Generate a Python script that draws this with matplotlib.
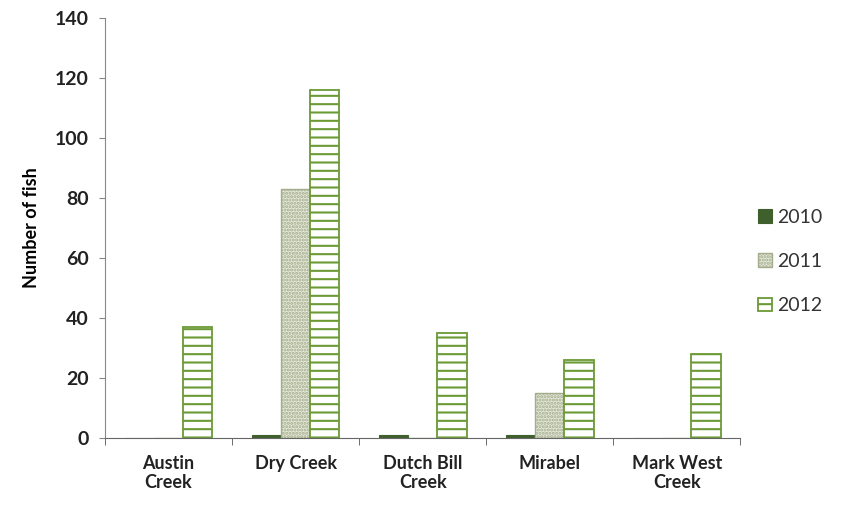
import matplotlib.pyplot as plt
import numpy as np

sites = ['Austin\nCreek', 'Dry Creek', 'Dutch Bill\nCreek', 'Mirabel', 'Mark West\nCreek']
years = ['2010', '2011', '2012']
fish_2010 = [0, 1, 1, 1, 0]
fish_2011 = [0, 83, 0, 15, 0]
fish_2012 = [37, 116, 35, 26, 28]

plt.rcParams['font.family'] = ['Lato', 'DejaVu Sans']
plt.rcParams['font.weight'] = 'bold'
plt.rcParams['hatch.linewidth'] = 1.5

fig = plt.figure(figsize=(8.54, 5.11), dpi=100)
ax = fig.add_axes([0.123, 0.143, 0.744, 0.822])

x = np.arange(len(sites))
w = 0.23
styles = [
    dict(color='#3f5f2c', edgecolor='#3f5f2c', linewidth=0.8),
    dict(color='#e6e8da', edgecolor='#a3ad8c', hatch='.....', linewidth=1.0),
    dict(color='white', edgecolor='#6b9a35', hatch='--', linewidth=1.3),
]
for i, (vals, st) in enumerate(zip([fish_2010, fish_2011, fish_2012], styles)):
    ax.bar(x + (i - 1) * w, vals, w, label=years[i], **st)

ax.set_xlim(-0.5, len(sites) - 0.5)
ax.set_ylim(0, 140)
ax.set_yticks(np.arange(0, 141, 20))
ax.set_xticks(x)
ax.set_xticklabels(sites, fontsize=13, fontweight='bold', color='#222222')
ax.set_xticks(np.arange(-0.5, len(sites), 1), minor=True)
ax.tick_params(axis='x', which='major', length=0, pad=12)
ax.tick_params(axis='x', which='minor', length=5, color='#555555', direction='out')
ax.tick_params(axis='y', length=4, color='#888888', labelsize=14, labelcolor='#222222', pad=8)
for lab in ax.get_yticklabels():
    lab.set_fontweight('bold')
ax.set_ylabel('Number of fish', fontsize=13, fontweight='bold', labelpad=10)

for s in ['top', 'right']:
    ax.spines[s].set_visible(False)
ax.spines['left'].set_color('#888888')
ax.spines['bottom'].set_color('#666666')

leg = ax.legend(loc='center left', bbox_to_anchor=(1.0, 0.42), frameon=False,
                fontsize=14, handlelength=0.7, handleheight=0.7,
                handletextpad=0.3, labelspacing=1.4)
for t in leg.get_texts():
    t.set_fontweight('normal')
    t.set_color('#333333')

plt.savefig('out.png', dpi=100)
